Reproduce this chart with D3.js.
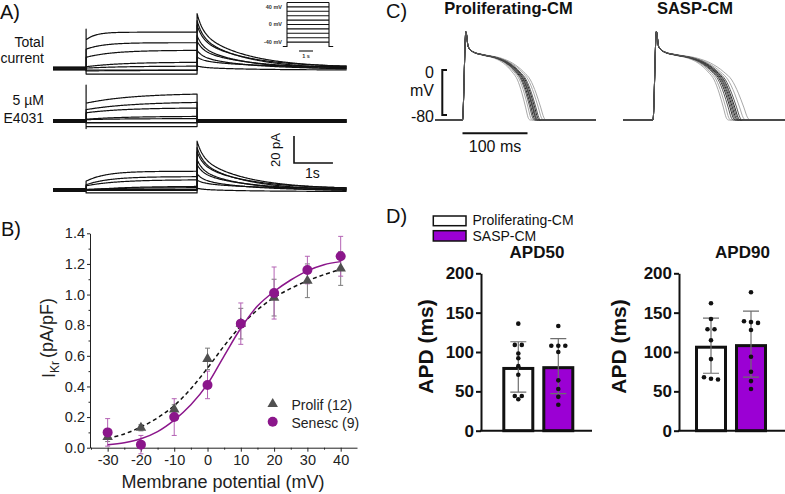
<!DOCTYPE html>
<html><head><meta charset="utf-8">
<script src="https://cdn.jsdelivr.net/npm/d3@7"></script>
<style>
body{margin:0;background:#fff}
svg{display:block}
text{font-family:"Liberation Sans",Arial,Helvetica,sans-serif}
</style></head>
<body><svg id="c" width="785" height="494"></svg>
<script>
// ================= DATA =================
// Panel A: step protocol voltages (mV) and current parameters (pA, s)
const stepVoltages = [40, 30, 20, 10, 0, -10, -20, -30];
const holdOffset   = [0.6, -0.5, 0.9, -0.9, 0.3, -0.3, 1.1, -1.1];
const totalSteady  = [26.3, 19.6, 12.6, 5.6, 1.5, -1.1, -2.2, -3.0];
const totalInst    = [20.7, 14.8, 7.4, 2.2, 0.0, -1.5, -2.2, -3.0];
const totalTau     = [0.25, 0.45, 0.7, 0.9, 1.0, 1.0, 1.0, 1.0];
const totalTail    = [40.0, 35.9, 31.1, 25.2, 20.0, 13.7, 7.4, 3.0];
const totalSpike   = [28.5, 0, 0, 0, 0, 0, 0, -2.0];
const e4031Steady  = [20.0, 14.8, 8.9, 4.4, 1.5, -1.1, -2.2, -3.0];
const e4031Inst    = [12.6, 8.9, 5.2, 2.2, 0.7, -1.1, -2.2, -3.0];
const e4031Tau     = [1.2, 1.2, 1.0, 1.0, 1.0, 1.0, 1.0, 1.0];
const e4031Spike   = [26.0, 0, 0, 0, 0, 0, 0, -4.5];
const diffSteady   = [13.3, 10.4, 6.7, 3.7, 1.5, 0.0, -0.7, -1.1];
const diffInst     = [5.9, 4.4, 2.2, 0.7, 0.0, 0.0, -0.7, -1.1];
const diffTau      = [0.5, 0.6, 0.8, 1.0, 1.0, 1.0, 1.0, 1.0];
const diffTail     = [35.6, 31.9, 27.4, 23.3, 18.5, 12.2, 6.3, 2.4];
const diffSpike    = [6, 0, 0, 0, 0, 0, 0, 0];
const protocolLevels = [50, 40, 30, 20, 10, 0, -10, -20, -30, -40];
const protocolHolding = -50;
const protocolLabels = [40, 0, -40];

// Panel B: I-V relation
const voltages   = [-30, -20, -10, 0, 10, 20, 30, 40];
const prolifMean = [0.07, 0.13, 0.25, 0.58, 0.81, 0.98, 1.09, 1.17];
const prolifSem  = [0.03, 0.02, 0.03, 0.07, 0.10, 0.12, 0.11, 0.11];
const senescMean = [0.10, 0.02, 0.20, 0.41, 0.81, 1.01, 1.16, 1.25];
const senescSem  = [0.09, 0.06, 0.12, 0.09, 0.135, 0.17, 0.09, 0.13];
const fitVoltages = [-30, -25, -20, -15, -10, -5, 0, 5, 10, 15, 20, 25, 30, 35, 40];
const prolifFit  = [0.06, 0.09, 0.135, 0.195, 0.275, 0.385, 0.52, 0.665, 0.795, 0.9, 0.98, 1.04, 1.09, 1.13, 1.165];
const senescFit  = [0.02, 0.033, 0.058, 0.105, 0.18, 0.28, 0.415, 0.6, 0.78, 0.925, 1.02, 1.095, 1.155, 1.195, 1.215];
const bTicksX = [-30, -20, -10, 0, 10, 20, 30, 40];
const bMinorX = [-35, -25, -15, -5, 5, 15, 25, 35];
const bTicksY = [0, 0.2, 0.4, 0.6, 0.8, 1.0, 1.2, 1.4];
const bMinorY = [0.1, 0.3, 0.5, 0.7, 0.9, 1.1, 1.3];

// Panel C: action potential template (ms, mV) and per-cell repolarisation end (ms)
const apTime = [0, 5.2, 8.8, 16.5, 31.8, 53.4, 68.8, 84.2, 93.4, 101, 107.2, 111.8, 115];
const apVolt = [-90, 74, 46, 36.5, 31, 25, 16, -0.7, -15.6, -40, -66, -86, -90];
const prolifAPEnd = [104, 108, 111, 113, 115, 116, 117, 119, 121, 125, 129];
const saspAPEnd   = [116, 120, 124, 127, 129, 131, 133, 135, 138, 143, 150];

// Panel D: APD bar charts (ms)
const groups = ["Proliferating-CM", "SASP-CM"];
const apd50Mean = [81, 82];
const apd50SD   = [32, 35];
const apd90Mean = [108, 110];
const apd90SD   = [35, 42];
const apd50Prolif = [136, 109, 109, 98, 92, 82, 71, 44, 44, 40];
const apd50Sasp   = [133, 108, 108, 108, 100, 64, 53, 43, 33];
const apd90Prolif = [162, 142, 129, 129, 115, 91, 68, 66, 65];
const apd90Sasp   = [176, 139, 138, 137, 128, 94, 75, 63, 53];
const dTicks = [0, 50, 100, 150, 200];

// ================= DRAWING =================
const svg = d3.select("#c");
const purpleB = "#8b168b", purpleBLight = "#b463b4", purpleD = "#9b00d4";

function label(x, y, txt, size, opts = {}) {
  const t = svg.append("text").attr("x", x).attr("y", y).text(txt)
    .attr("font-size", size).attr("fill", opts.fill || "#111")
    .attr("text-anchor", opts.anchor || "start");
  if (opts.bold) t.attr("font-weight", "bold");
  return t;
}

// ---------- Panel A ----------
label(0, 19, "A)", 20);
label(44, 46.5, "Total", 14, {anchor: "end"});
label(44, 63, "current", 14, {anchor: "end"});
label(44, 105, "5 µM", 14, {anchor: "end"});
label(44, 123, "E4031", 14, {anchor: "end"});

const tEnd = 7.55, tOn = 0.85, tOff = 3.7;
const xA = d3.scaleLinear().domain([0, tEnd]).range([53, 347]);
const rowsA = [
  {base: 68.5, steady: totalSteady, inst: totalInst, tau: totalTau, tail: totalTail, spike: totalSpike},
  {base: 121,  steady: e4031Steady, inst: e4031Inst, tau: e4031Tau, tail: null, spike: e4031Spike},
  {base: 190,  steady: diffSteady,  inst: diffInst,  tau: diffTau,  tail: diffTail, spike: diffSpike}
];
function tracePts(row, i) {
  const h = holdOffset[i], pts = [];
  const step = t => h + row.steady[i] + (row.inst[i] - row.steady[i]) * Math.exp(-(t - tOn) / row.tau[i]);
  for (let t = 0; t < tOn; t += 0.02) pts.push([t, h]);
  pts.push([tOn, h]);
  if (row.spike[i]) pts.push([tOn, h + row.spike[i]]);
  for (let t = tOn; t < tOff; t += 0.02) pts.push([t, step(t)]);
  pts.push([tOff, step(tOff)]);
  if (row.tail) {
    for (let t = tOff; t <= tEnd + 1e-9; t += 0.02) {
      const d = t - tOff;
      pts.push([t, h + row.tail[i] * (0.33 * Math.exp(-d / 0.15) + 0.67 * Math.exp(-d / 1.2))]);
    }
  } else {
    pts.push([tOff, h]);
    for (let t = tOff; t <= tEnd + 1e-9; t += 0.02) pts.push([t, h]);
  }
  return pts;
}
rowsA.forEach(row => {
  const yR = d3.scaleLinear().domain([0, 20]).range([row.base, row.base - 27]);
  const line = d3.line().x(d => xA(d[0])).y(d => yR(d[1]));
  svg.append("g").selectAll("path").data(stepVoltages).join("path")
    .attr("d", (v, i) => line(tracePts(row, i)))
    .attr("fill", "none").attr("stroke", "#111").attr("stroke-width", 1.2)
    .attr("stroke-linejoin", "round");
});
// scale bar A (20 pA / 1 s)
{
  const yR = d3.scaleLinear().domain([0, 20]).range([163, 136]);
  const x0 = 294, x1 = x0 + (xA(1) - xA(0));
  svg.append("path").attr("d", `M${x0},${yR(20)}V${yR(0)}H${x1}`)
    .attr("fill", "none").attr("stroke", "#111").attr("stroke-width", 1.6);
  svg.append("text").attr("transform", `translate(280,150) rotate(-90)`)
    .attr("text-anchor", "middle").attr("font-size", 13).attr("fill", "#111").text("20 pA");
  label((x0 + x1) / 2 - 1, 178, "1s", 14, {anchor: "middle"});
}
// voltage protocol inset
{
  const xI = d3.scaleLinear().domain([0, 3]).range([287, 329]);
  const yI = d3.scaleLinear().domain([-50, 50]).range([46.5, 2.5]);
  const g = svg.append("g").attr("stroke", "#111").attr("stroke-width", 1.1).attr("fill", "none");
  g.selectAll("line.lv").data(protocolLevels).join("line")
    .attr("x1", xI(0)).attr("x2", xI(3)).attr("y1", d => yI(d)).attr("y2", d => yI(d));
  g.append("path").attr("d",
    `M${xI(-0.3)},${yI(protocolHolding)}H${xI(0)}V${yI(d3.max(protocolLevels))}` +
    `M${xI(3)},${yI(d3.max(protocolLevels))}V${yI(protocolHolding)}H${xI(3.3)}`);
  g.append("line").attr("x1", xI(0.86)).attr("x2", xI(1.86)).attr("y1", 51).attr("y2", 51);
  svg.append("g").selectAll("text").data(protocolLabels).join("text")
    .attr("x", 282).attr("y", d => yI(d) + 1.8).attr("text-anchor", "end")
    .attr("font-size", 5.5).attr("font-weight", "bold").attr("fill", "#333")
    .text(d => d + " mV");
  svg.append("text").attr("x", xI(1.36)).attr("y", 57.5).attr("text-anchor", "middle")
    .attr("font-size", 5.5).attr("font-weight", "bold").attr("fill", "#333").text("1 s");
}

// ---------- Panel B ----------
label(1, 236, "B)", 20);
const xB = d3.scaleLinear().domain([-35.3, 44.9]).range([90, 357]);
const yB = d3.scaleLinear().domain([0, 1.4]).range([447.7, 233.3]);
const gB = svg.append("g");
function styleAxis(g, size) {
  g.selectAll("path,line").attr("stroke", "#222").attr("stroke-width", 1);
  g.selectAll("text").attr("font-size", size).attr("fill", "#222")
    .attr("font-family", '"Liberation Sans",Arial,sans-serif');
}
gB.append("g").attr("transform", "translate(0,447.7)")
  .call(d3.axisBottom(xB).tickValues(bTicksX).tickSize(4).tickSizeOuter(0).tickPadding(3).tickFormat(d => String(d)))
  .call(g => styleAxis(g, 14.5));
gB.append("g").attr("transform", "translate(0,447.7)")
  .call(d3.axisBottom(xB).tickValues(bMinorX).tickSize(2).tickFormat(""))
  .call(g => { g.select(".domain").remove(); styleAxis(g, 14.5); });
gB.append("g").attr("transform", "translate(90,0)")
  .call(d3.axisLeft(yB).tickValues(bTicksY).tickSize(3).tickSizeOuter(0).tickPadding(2).tickFormat(d3.format(".1f")))
  .call(g => styleAxis(g, 14.5));
gB.append("g").attr("transform", "translate(90,0)")
  .call(d3.axisLeft(yB).tickValues(bMinorY).tickSize(1.5).tickFormat(""))
  .call(g => { g.select(".domain").remove(); styleAxis(g, 14.5); });
// axis titles
label(223, 488, "Membrane potential (mV)", 18, {anchor: "middle", fill: "#222"});
{
  const t = svg.append("text").attr("transform", "translate(55,338) rotate(-90)")
    .attr("text-anchor", "middle").attr("font-size", 18).attr("fill", "#222");
  t.append("tspan").text("I");
  t.append("tspan").attr("font-size", 12).attr("dy", "0.3em").text("Kr");
  t.append("tspan").attr("dy", "-0.3em").attr("dx", 3).text("(pA/pF)");
}
// error bars
function errBars(mean, sem, color) {
  const g = svg.append("g").attr("stroke", color).attr("stroke-width", 1);
  voltages.forEach((v, i) => {
    const x = xB(v), y0 = yB(mean[i] - sem[i]), y1 = yB(mean[i] + sem[i]);
    g.append("path").attr("d", `M${x},${y0}V${y1}M${x - 2.5},${y0}H${x + 2.5}M${x - 2.5},${y1}H${x + 2.5}`);
  });
}
errBars(prolifMean, prolifSem, "#7a7a7a");
errBars(senescMean, senescSem, purpleBLight);
// fit lines
const fitLine = d3.line().x((d, i) => xB(fitVoltages[i])).y(d => yB(d)).curve(d3.curveCatmullRom.alpha(0.5));
svg.append("path").attr("d", fitLine(prolifFit)).attr("fill", "none")
  .attr("stroke", "#111").attr("stroke-width", 1.5).attr("stroke-dasharray", "4,3");
svg.append("path").attr("d", fitLine(senescFit)).attr("fill", "none")
  .attr("stroke", purpleB).attr("stroke-width", 1.5);
// markers
const tri = d3.symbol().type(d3.symbolTriangle).size(48);
svg.append("g").selectAll("path").data(prolifMean).join("path")
  .attr("d", tri).attr("transform", (d, i) => `translate(${xB(voltages[i])},${yB(d)})`)
  .attr("fill", "#505050");
svg.append("g").selectAll("circle").data(senescMean).join("circle")
  .attr("cx", (d, i) => xB(voltages[i])).attr("cy", d => yB(d)).attr("r", 5)
  .attr("fill", purpleB);
// legend B
svg.append("path").attr("d", tri).attr("transform", "translate(272.7,404)").attr("fill", "#505050");
svg.append("circle").attr("cx", 272.7).attr("cy", 421.7).attr("r", 5).attr("fill", purpleB);
label(291.5, 409.5, "Prolif (12)", 14, {fill: "#222"});
label(291.5, 427.5, "Senesc (9)", 14, {fill: "#222"});

// ---------- Panel C ----------
label(386, 17.5, "C)", 20);
label(508.5, 14, "Proliferating-CM", 16.5, {anchor: "middle", bold: true});
label(695, 14, "SASP-CM", 16.5, {anchor: "middle", bold: true});
const yC = d3.scaleLinear().domain([-90, 0]).range([120, 71.6]);
function apPts(end) {
  const s = (end - 10) / (apTime[apTime.length - 1] - 10);
  const pts = [[-46, apVolt[0]]];
  apTime.forEach((t, k) => pts.push([t <= 10 ? t : 10 + (t - 10) * s, apVolt[k]]));
  pts.push([205, apVolt[apVolt.length - 1]]);
  return pts;
}
function drawAPs(ends, x0, tStart) {
  const xC = d3.scaleLinear().domain([0, 100]).range([x0, x0 + 65]);
  const line = d3.line().x(d => xC(d[0])).y(d => yC(d[1])).curve(d3.curveMonotoneX);
  const n = ends.length;
  const order = d3.range(n).sort((a, b) => {
    const la = (a < 2 || a >= n - 2) ? 0 : 1, lb = (b < 2 || b >= n - 2) ? 0 : 1;
    return la - lb;
  });
  svg.append("g").selectAll("path").data(order).join("path")
    .attr("d", k => line(apPts(ends[k]).map((p, j) => j === 0 ? [tStart, p[1]] : p)))
    .attr("fill", "none")
    .attr("stroke", k => (k < 2 || k >= n - 2) ? "#a8a8a8" : (k % 2 ? "#2a2a2a" : "#5a5a5a"))
    .attr("stroke-width", 1);
  return xC;
}
const xCP = drawAPs(prolifAPEnd, 462.5, -42);
drawAPs(saspAPEnd, 653, -46);
// scale bars C
svg.append("path").attr("d", `M447,${yC(0) - 1.5}H442.3V${yC(-80) + 0.5}H447`)
  .attr("fill", "none").attr("stroke", "#111").attr("stroke-width", 2);
label(434, 77.5, "0", 16, {anchor: "end"});
label(434, 96, "mV", 16, {anchor: "end"});
label(434, 121.5, "-80", 16, {anchor: "end"});
svg.append("line").attr("x1", xCP(0)).attr("x2", xCP(100)).attr("y1", 133.3).attr("y2", 133.3)
  .attr("stroke", "#111").attr("stroke-width", 2);
label((xCP(0) + xCP(100)) / 2, 152, "100 ms", 16, {anchor: "middle"});

// ---------- Panel D ----------
label(386, 223, "D)", 20);
svg.append("rect").attr("x", 433.3).attr("y", 216).attr("width", 32.7).attr("height", 9.7)
  .attr("fill", "#fff").attr("stroke", "#111").attr("stroke-width", 1.5);
svg.append("rect").attr("x", 433.3).attr("y", 230.7).attr("width", 32.7).attr("height", 10.3)
  .attr("fill", purpleD).attr("stroke", "#111").attr("stroke-width", 1.5);
label(472.5, 225, groups[0], 14);
label(472.5, 240.5, groups[1], 14);

const yD = d3.scaleLinear().domain([0, 200]).range([430.7, 273.3]);
function barChart(cfg) {
  const g = svg.append("g");
  const xD = d3.scaleBand().domain(groups).range(cfg.band).paddingInner(0.2).paddingOuter(0);
  const fills = ["#ffffff", purpleD];
  g.selectAll("rect").data(cfg.mean).join("rect")
    .attr("x", (d, i) => xD(groups[i]) + 1.5).attr("width", xD.bandwidth() - 3)
    .attr("y", d => yD(d) + 1.5).attr("height", d => yD(0) - yD(d) - 1.5)
    .attr("fill", (d, i) => fills[i]).attr("stroke", "#111").attr("stroke-width", 3);
  cfg.mean.forEach((m, i) => {
    const cx = xD(groups[i]) + xD.bandwidth() / 2, y0 = yD(m - cfg.sd[i]), y1 = yD(m + cfg.sd[i]);
    g.append("path").attr("d", `M${cx},${y0}V${y1}M${cx - 8},${y0}H${cx + 8}M${cx - 8},${y1}H${cx + 8}`)
      .attr("stroke", "#6e6e6e").attr("stroke-width", 1.2).attr("fill", "none");
  });
  cfg.points.forEach((vals, i) => {
    const cx = xD(groups[i]) + xD.bandwidth() / 2;
    const sorted = vals.slice().sort((a, b) => b - a);
    const clusters = [];
    sorted.forEach(v => {
      const last = clusters[clusters.length - 1];
      if (last && Math.abs(last[last.length - 1] - v) <= 3) last.push(v); else clusters.push([v]);
    });
    clusters.forEach(cl => cl.forEach((v, j) => {
      g.append("circle").attr("cx", cx + (j - (cl.length - 1) / 2) * 7).attr("cy", yD(v))
        .attr("r", 2.3).attr("fill", "#111");
    }));
  });
  const ax = g.append("g").attr("transform", `translate(${cfg.axisX},0)`)
    .call(d3.axisLeft(yD).tickValues(dTicks).tickSize(5).tickSizeOuter(0).tickPadding(2));
  ax.selectAll("path,line").attr("stroke", "#111").attr("stroke-width", 2);
  ax.selectAll("text").attr("font-size", 17).attr("font-weight", "bold").attr("fill", "#111")
    .attr("font-family", '"Liberation Sans",Arial,sans-serif');
  g.append("line").attr("x1", cfg.axisX - 1).attr("x2", cfg.xEnd).attr("y1", yD(0)).attr("y2", yD(0))
    .attr("stroke", "#111").attr("stroke-width", 2);
  svg.append("text").attr("transform", `translate(${cfg.labelX},346.5) rotate(-90)`)
    .attr("text-anchor", "middle").attr("font-size", 21).attr("font-weight", "bold")
    .attr("fill", "#111").text("APD (ms)");
  label(cfg.titleX, 258.3, cfg.title, 17, {anchor: "middle", bold: true});
}
barChart({axisX: 481, band: [502.3, 574.3], xEnd: 592, labelX: 433, titleX: 537, title: "APD50",
  mean: apd50Mean, sd: apd50SD, points: [apd50Prolif, apd50Sasp]});
barChart({axisX: 679, band: [695, 767], xEnd: 785, labelX: 626, titleX: 742.5, title: "APD90",
  mean: apd90Mean, sd: apd90SD, points: [apd90Prolif, apd90Sasp]});
</script>
</body></html>
